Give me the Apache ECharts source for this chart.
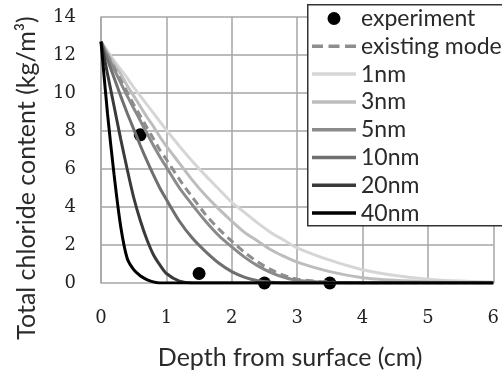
<!DOCTYPE html>
<html>
<head>
<meta charset="utf-8">
<script src="https://cdn.jsdelivr.net/npm/echarts@6/dist/echarts.min.js"></script>
<style>
  html, body { margin: 0; padding: 0; background: #fff; }
  #chart { width: 502px; height: 376px; }
</style>
</head>
<body>
<div id="chart"></div>
<script>
// depth from surface (cm)
var depth = [0, 0.1, 0.2, 0.3, 0.4, 0.5, 0.6, 0.7, 0.8, 0.9, 1.0, 1.2, 1.4, 1.6, 1.8, 2.0, 2.2, 2.4, 2.6, 2.8, 3.0, 3.5, 4.0, 4.5, 5.0, 5.5, 6.0];

// total chloride content (kg/m3)
var nm1 = [12.7, 12.2, 11.7, 11.25, 10.8, 10.3, 9.85, 9.4, 8.95, 8.5, 8.05, 7.2, 6.4, 5.65, 4.95, 4.25, 3.7, 3.15, 2.65, 2.25, 1.85, 1.2, 0.7, 0.4, 0.2, 0.1, 0.05];
var nm3 = [12.7, 12.1, 11.55, 11.0, 10.4, 9.85, 9.3, 8.75, 8.25, 7.7, 7.2, 6.3, 5.4, 4.6, 3.9, 3.25, 2.65, 2.2, 1.75, 1.4, 1.1, 0.6, 0.28, 0.14, 0.06, 0.02, 0];
var existing = [12.7, 12.0, 11.35, 10.7, 10.05, 9.4, 8.8, 8.2, 7.6, 7.0, 6.5, 5.45, 4.5, 3.6, 2.85, 2.2, 1.6, 1.1, 0.7, 0.4, 0.2, 0.04, 0, 0, 0, 0, 0];
var nm5 = [12.7, 11.95, 11.25, 10.55, 9.85, 9.2, 8.55, 7.9, 7.25, 6.65, 6.1, 5.0, 4.1, 3.25, 2.5, 1.9, 1.35, 0.9, 0.55, 0.3, 0.14, 0.02, 0, 0, 0, 0, 0];
var nm10 = [12.7, 11.75, 10.8, 9.85, 8.95, 8.1, 7.25, 6.45, 5.7, 5.0, 4.4, 3.25, 2.35, 1.65, 1.05, 0.6, 0.3, 0.12, 0.04, 0, 0, 0, 0, 0, 0, 0, 0];
var nm20 = [12.7, 11.0, 9.3, 7.6, 6.0, 4.5, 3.3, 2.3, 1.5, 0.95, 0.5, 0.1, 0, 0, 0, 0, 0, 0, 0, 0, 0, 0, 0, 0, 0, 0, 0];
var nm40 = [12.7, 8.9, 5.7, 3.0, 1.3, 0.7, 0.38, 0.18, 0.06, 0, 0, 0, 0, 0, 0, 0, 0, 0, 0, 0, 0, 0, 0, 0, 0, 0, 0];

// measured points
var expDepth = [0.6, 1.5, 2.5, 3.5];
var expValue = [7.8, 0.5, 0, 0];

var xTicks = [0, 1, 2, 3, 4, 5, 6];
var yTicks = [0, 2, 4, 6, 8, 10, 12, 14];

function pairs(xs, ys) {
  return xs.map(function (x, i) { return [x, ys[i]]; });
}

function curve(name, ys, color, dashed) {
  return {
    name: name,
    type: "line",
    data: pairs(depth, ys),
    smooth: 0.25,
    symbol: "none",
    showSymbol: false,
    lineStyle: { color: color, width: 3, type: dashed ? [8, 5] : "solid" },
    itemStyle: { color: color },
  };
}

// flat bar used as the legend sample for the lines
var lineIcon = "path://M0,0L44,0L44,3.5L0,3.5Z";
var dashIcon = "path://M0,0L11,0L11,3.5L0,3.5ZM16.5,0L27.5,0L27.5,3.5L16.5,3.5ZM33,0L44,0L44,3.5L33,3.5Z";

var chart = echarts.init(document.getElementById("chart"));

var option = {
  animation: false,
  grid: { left: 101, right: 6, top: 17, bottom: 93 },
  // legend frame runs off the right edge, so it is drawn separately
  graphic: [
    {
      type: "rect",
      left: 307,
      top: 4,
      z: 3,
      shape: { width: 230, height: 221 },
      style: { fill: "#fff", stroke: "#333", lineWidth: 1.5 },
    },
  ],
  legend: {
    orient: "vertical",
    left: 307,
    top: 4,
    padding: [3, 5, 2, 5],
    itemWidth: 44,
    itemHeight: 13,
    itemGap: 4.8,
    textStyle: { fontFamily: "Lato", fontSize: 23, lineHeight: 22, color: "#2a2a2a" },
    data: [
      { name: "experiment", icon: "circle" },
      { name: "existing model", icon: dashIcon },
      { name: "1nm", icon: lineIcon },
      { name: "3nm", icon: lineIcon },
      { name: "5nm", icon: lineIcon },
      { name: "10nm", icon: lineIcon },
      { name: "20nm", icon: lineIcon },
      { name: "40nm", icon: lineIcon },
    ],
  },
  xAxis: {
    type: "value",
    min: 0,
    max: 6,
    interval: 1,
    name: "Depth from surface (cm)",
    nameLocation: "middle",
    nameGap: 62,
    nameTextStyle: { fontFamily: "Lato", fontSize: 25, color: "#2a2a2a", padding: [0, 14, 0, 0] },
    axisLine: { show: false },
    axisTick: { show: false },
    axisLabel: {
      margin: 26,
      fontFamily: "DejaVu Serif",
      fontSize: 18,
      color: "#222",
      formatter: function (v) { return xTicks.indexOf(v) >= 0 ? String(v) : ""; },
    },
    splitLine: { show: true, lineStyle: { color: "#a6a6a6", width: 1.5 } },
  },
  yAxis: {
    type: "value",
    min: 0,
    max: 14,
    interval: 2,
    name: "Total chloride content (kg/m³)",
    nameLocation: "middle",
    nameGap: 62,
    nameTextStyle: { fontFamily: "Lato", fontSize: 25, color: "#2a2a2a", padding: [0, 56, 0, 0] },
    axisLine: { show: true, lineStyle: { color: "#a6a6a6", width: 1.5 } },
    axisTick: { show: false },
    axisLabel: {
      margin: 25,
      fontFamily: "DejaVu Serif",
      fontSize: 18,
      color: "#222",
      formatter: function (v) { return yTicks.indexOf(v) >= 0 ? String(v) : ""; },
    },
    splitLine: { show: true, lineStyle: { color: "#a6a6a6", width: 1.5 } },
  },
  series: [
    curve("1nm", nm1, "#d6d6d6"),
    curve("3nm", nm3, "#bdbdbd"),
    curve("existing model", existing, "#8e8e8e", true),
    curve("5nm", nm5, "#8a8a8a"),
    curve("10nm", nm10, "#6f6f6f"),
    curve("20nm", nm20, "#3a3a3a"),
    curve("40nm", nm40, "#000"),
    {
      name: "experiment",
      type: "scatter",
      data: pairs(expDepth, expValue),
      symbol: "circle",
      symbolSize: 13,
      itemStyle: { color: "#000", opacity: 1 },
      z: 2.5,
    },
  ],
};

chart.setOption(option);
</script>
</body>
</html>
